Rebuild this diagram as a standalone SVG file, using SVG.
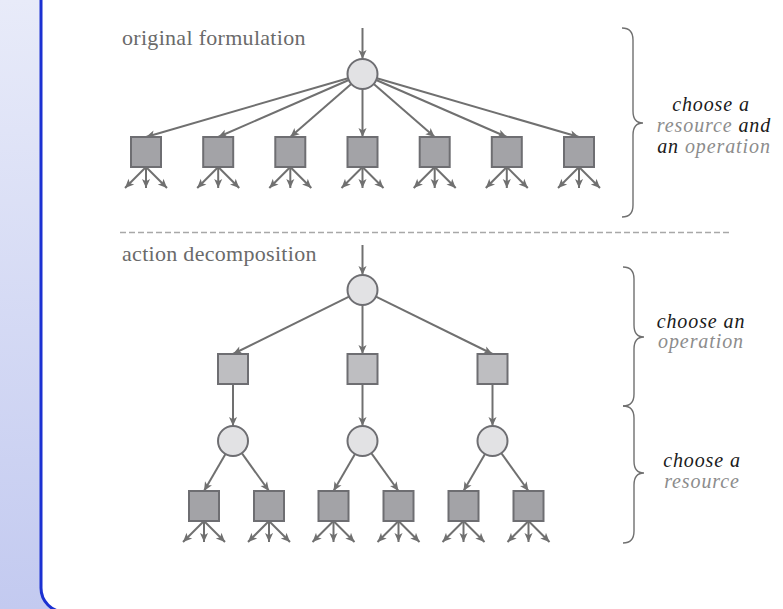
<svg xmlns="http://www.w3.org/2000/svg" width="783" height="609" viewBox="0 0 783 609">
<defs>
<linearGradient id="bg" x1="0" y1="0" x2="0" y2="1">
<stop offset="0" stop-color="#e8ebf9"/>
<stop offset="1" stop-color="#c3caf0"/>
</linearGradient>
<marker id="ah" viewBox="0 0 10 10" refX="10" refY="5" markerWidth="10" markerHeight="9" markerUnits="userSpaceOnUse" orient="auto">
<path d="M0,0.5 L10,5 L0,9.5 L2.5,5 z" fill="#707070"/>
</marker>
<style>
.edge{stroke:#707070;stroke-width:2;fill:none;marker-end:url(#ah)}
.leaf{fill:#a3a3a7;stroke:#6e6e72;stroke-width:2}
.mid{fill:#bebec1;stroke:#6e6e72;stroke-width:2}
.chance{fill:#e2e2e4;stroke:#6e6e72;stroke-width:2}
.brace{stroke:#707070;stroke-width:1.4;fill:none}
.lbl{font-size:22px;fill:#6a6a6a;letter-spacing:0.3px}
.note{font-size:20px;font-style:italic;fill:#1a1a1a;text-anchor:middle;letter-spacing:0.9px}
.g{fill:#8c8c8c}
</style>
</defs>
<rect x="0" y="0" width="783" height="609" fill="url(#bg)"/>
<rect x="41" y="-30" width="780" height="642" rx="24" ry="24" fill="#ffffff" stroke="#1b31d2" stroke-width="3"/>

<g font-family="Liberation Serif, DejaVu Serif, serif">
<text class="lbl" x="122" y="45">original formulation</text>
<text class="lbl" x="122" y="261">action decomposition</text>
</g>
<line x1="120" y1="232.5" x2="732" y2="232.5" stroke="#a8a8a8" stroke-width="1.5" stroke-dasharray="6,3"/>

<g id="connectors">
<line class="edge" x1="362.5" y1="28" x2="362.5" y2="59"/>
<line class="edge" x1="348.1" y1="78.2" x2="146" y2="137"/>
<line class="edge" x1="348.8" y1="80" x2="218.2" y2="137"/>
<line class="edge" x1="351.2" y1="83.9" x2="290.3" y2="137"/>
<line class="edge" x1="362.5" y1="89" x2="362.5" y2="137"/>
<line class="edge" x1="373.8" y1="83.9" x2="434.7" y2="137"/>
<line class="edge" x1="376.2" y1="80" x2="506.8" y2="137"/>
<line class="edge" x1="376.9" y1="78.2" x2="579" y2="137"/>
<line class="edge" x1="146" y1="167" x2="125" y2="188"/><line class="edge" x1="146" y1="167" x2="146" y2="188"/><line class="edge" x1="146" y1="167" x2="167" y2="188"/>
<line class="edge" x1="218.2" y1="167" x2="197.2" y2="188"/><line class="edge" x1="218.2" y1="167" x2="218.2" y2="188"/><line class="edge" x1="218.2" y1="167" x2="239.2" y2="188"/>
<line class="edge" x1="290.3" y1="167" x2="269.3" y2="188"/><line class="edge" x1="290.3" y1="167" x2="290.3" y2="188"/><line class="edge" x1="290.3" y1="167" x2="311.3" y2="188"/>
<line class="edge" x1="362.5" y1="167" x2="341.5" y2="188"/><line class="edge" x1="362.5" y1="167" x2="362.5" y2="188"/><line class="edge" x1="362.5" y1="167" x2="383.5" y2="188"/>
<line class="edge" x1="434.7" y1="167" x2="413.7" y2="188"/><line class="edge" x1="434.7" y1="167" x2="434.7" y2="188"/><line class="edge" x1="434.7" y1="167" x2="455.7" y2="188"/>
<line class="edge" x1="506.8" y1="167" x2="485.8" y2="188"/><line class="edge" x1="506.8" y1="167" x2="506.8" y2="188"/><line class="edge" x1="506.8" y1="167" x2="527.8" y2="188"/>
<line class="edge" x1="579" y1="167" x2="558" y2="188"/><line class="edge" x1="579" y1="167" x2="579" y2="188"/><line class="edge" x1="579" y1="167" x2="600" y2="188"/>
<line class="edge" x1="362.5" y1="245" x2="362.5" y2="275"/>
<line class="edge" x1="349.05" y1="296.6" x2="233" y2="354"/>
<line class="edge" x1="362.5" y1="305" x2="362.5" y2="354"/>
<line class="edge" x1="375.96" y1="296.6" x2="492.5" y2="354"/>
<line class="edge" x1="233" y1="384" x2="233" y2="426"/>
<line class="edge" x1="362.5" y1="384" x2="362.5" y2="426"/>
<line class="edge" x1="492.5" y1="384" x2="492.5" y2="426"/>
<line class="edge" x1="225.5" y1="454" x2="204" y2="491"/>
<line class="edge" x1="241.8" y1="453.2" x2="269" y2="491"/>
<line class="edge" x1="355" y1="454" x2="333.5" y2="491"/>
<line class="edge" x1="371.3" y1="453.2" x2="398.5" y2="491"/>
<line class="edge" x1="485" y1="454" x2="463.5" y2="491"/>
<line class="edge" x1="501.3" y1="453.2" x2="528.5" y2="491"/>
<line class="edge" x1="204" y1="521" x2="183" y2="542"/><line class="edge" x1="204" y1="521" x2="204" y2="542"/><line class="edge" x1="204" y1="521" x2="225" y2="542"/>
<line class="edge" x1="269" y1="521" x2="248" y2="542"/><line class="edge" x1="269" y1="521" x2="269" y2="542"/><line class="edge" x1="269" y1="521" x2="290" y2="542"/>
<line class="edge" x1="333.5" y1="521" x2="312.5" y2="542"/><line class="edge" x1="333.5" y1="521" x2="333.5" y2="542"/><line class="edge" x1="333.5" y1="521" x2="354.5" y2="542"/>
<line class="edge" x1="398.5" y1="521" x2="377.5" y2="542"/><line class="edge" x1="398.5" y1="521" x2="398.5" y2="542"/><line class="edge" x1="398.5" y1="521" x2="419.5" y2="542"/>
<line class="edge" x1="463.5" y1="521" x2="442.5" y2="542"/><line class="edge" x1="463.5" y1="521" x2="463.5" y2="542"/><line class="edge" x1="463.5" y1="521" x2="484.5" y2="542"/>
<line class="edge" x1="528.5" y1="521" x2="507.5" y2="542"/><line class="edge" x1="528.5" y1="521" x2="528.5" y2="542"/><line class="edge" x1="528.5" y1="521" x2="549.5" y2="542"/>
</g>

<g id="top-root"><circle class="chance" cx="362.5" cy="74" r="15"/></g>
<g id="top-a1"><rect class="leaf" x="131" y="137" width="30" height="30"/></g>
<g id="top-a2"><rect class="leaf" x="203.2" y="137" width="30" height="30"/></g>
<g id="top-a3"><rect class="leaf" x="275.3" y="137" width="30" height="30"/></g>
<g id="top-a4"><rect class="leaf" x="347.5" y="137" width="30" height="30"/></g>
<g id="top-a5"><rect class="leaf" x="419.7" y="137" width="30" height="30"/></g>
<g id="top-a6"><rect class="leaf" x="491.8" y="137" width="30" height="30"/></g>
<g id="top-a7"><rect class="leaf" x="564" y="137" width="30" height="30"/></g>

<g id="dec-root"><circle class="chance" cx="362.5" cy="290" r="15"/></g>
<g id="op1"><rect class="mid" x="218" y="354" width="30" height="30"/></g>
<g id="op2"><rect class="mid" x="347.5" y="354" width="30" height="30"/></g>
<g id="op3"><rect class="mid" x="477.5" y="354" width="30" height="30"/></g>
<g id="res1"><circle class="chance" cx="233" cy="441" r="15"/></g>
<g id="res2"><circle class="chance" cx="362.5" cy="441" r="15"/></g>
<g id="res3"><circle class="chance" cx="492.5" cy="441" r="15"/></g>
<g id="leaf1"><rect class="leaf" x="189" y="491" width="30" height="30"/></g>
<g id="leaf2"><rect class="leaf" x="254" y="491" width="30" height="30"/></g>
<g id="leaf3"><rect class="leaf" x="318.5" y="491" width="30" height="30"/></g>
<g id="leaf4"><rect class="leaf" x="383.5" y="491" width="30" height="30"/></g>
<g id="leaf5"><rect class="leaf" x="448.5" y="491" width="30" height="30"/></g>
<g id="leaf6"><rect class="leaf" x="513.5" y="491" width="30" height="30"/></g>

<g id="braces">
<path class="brace" d="M622,28 Q633,28 633,40 L633,111 Q633,123 643,123 Q633,123 633,135 L633,205 Q633,217 622,217"/>
<path class="brace" d="M623,267 Q634,267 634,279 L634,325 Q634,337 644,337 Q634,337 634,349 L634,394 Q634,406 623,406"/>
<path class="brace" d="M623,406 Q634,406 634,418 L634,461 Q634,473 644,473 Q634,473 634,485 L634,531 Q634,543 623,543"/>
</g>

<g font-family="Liberation Serif, DejaVu Serif, serif">
<g id="note-top">
<text class="note" x="711" y="111">choose a</text>
<text class="note" x="714" y="132"><tspan class="g">resource</tspan> and</text>
<text class="note" x="714" y="153">an <tspan class="g">operation</tspan></text>
</g>
<g id="note-op">
<text class="note" x="701" y="328">choose an</text>
<text class="note g" x="701" y="348">operation</text>
</g>
<g id="note-res">
<text class="note" x="702" y="467">choose a</text>
<text class="note g" x="702" y="488">resource</text>
</g>
</g>
</svg>
